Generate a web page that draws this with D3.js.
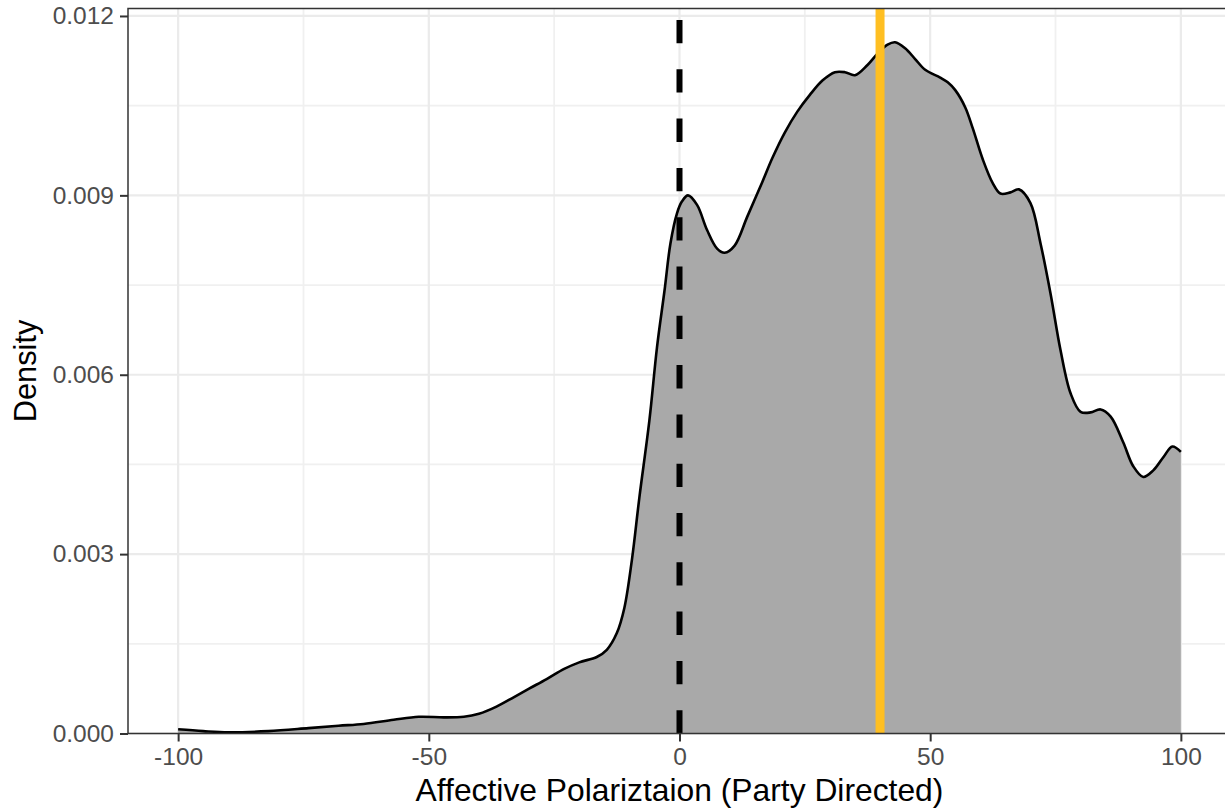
<!DOCTYPE html>
<html lang="en">
<head>
<meta charset="UTF-8">
<title>Density: Affective Polarization</title>
<script src="https://d3js.org/d3.v7.min.js"></script>
<style>
  body { margin: 0; background: #fff; }
  svg { display: block; font-family: "Liberation Sans", Arial, sans-serif; }
</style>
</head>
<body>
<div id="chart"></div>
<script>
// density curve
const xVals = [-100, -95, -90, -82, -74, -68, -63, -57, -52, -47, -43, -40, -36.5, -33, -30, -26.5, -23, -20, -16.5, -14.5,
  -12.5, -11, -9.5, -8, -6, -4.5, -3, -1.8, -0.5, 0.5, 1.7, 3.5, 5.5, 7.5, 9, 11, 13.5, 16.5, 18.5, 21,
  23.5, 26, 28.5, 31, 33, 35, 37.5, 39.5, 41.5, 43, 45, 47, 49, 52, 53.5, 55, 57, 58.5, 60.5, 62.5, 64,
  66, 67.7, 70, 72, 74, 76, 78, 80, 82, 84, 86, 88.5, 90.5, 92.5, 94.5, 96.5, 98.3, 100];
const densVals = [0.00007, 0.00004, 0.00002, 0.00004, 0.00009, 0.00013, 0.00016, 0.00023, 0.00028, 0.00027, 0.00028, 0.00033, 0.00045, 0.00061, 0.00075, 0.00091, 0.00108, 0.00119, 0.00128, 0.00140,
  0.00168, 0.00210, 0.00290, 0.00395, 0.00524, 0.00645, 0.00740, 0.00820, 0.00870, 0.00890, 0.00900, 0.00884, 0.00842, 0.00811, 0.00804, 0.00816, 0.00864, 0.00922, 0.00962, 0.01005,
  0.01040, 0.01068, 0.01092, 0.01106, 0.01106, 0.01101, 0.01118, 0.01137, 0.01152, 0.01156, 0.01146, 0.01128, 0.01110, 0.01097, 0.01089, 0.01076, 0.01047, 0.01012, 0.00960, 0.00920, 0.00903,
  0.00905, 0.00910, 0.00887, 0.00820, 0.00736, 0.00641, 0.00569, 0.00538, 0.00537, 0.00542, 0.00530, 0.00487, 0.00447, 0.00429, 0.00440, 0.00462, 0.00480, 0.00471];

const xTicks = [-100, -50, 0, 50, 100];
const xMinor = [-75, -25, 25, 75];
const yTicks = [0, 0.003, 0.006, 0.009, 0.012];
const yMinor = [0.0015, 0.0045, 0.0075, 0.0105];
const refLine = 0;      // dashed
const meanLine = 40;    // yellow

const W = 1225, H = 809;
const x = d3.scaleLinear().domain([-110, 110]).range([128, 1231]);
const y = d3.scaleLinear().domain([0, 0.012125]).range([733.5, 8.5]);

const svg = d3.select("#chart").append("svg")
  .attr("width", W).attr("height", H);

const data = xVals.map((v, i) => ({ x: v, d: densVals[i] }));

// grid
const grid = svg.append("g");
grid.selectAll(".ymin").data(yMinor).enter().append("line")
  .attr("x1", x(-110)).attr("x2", x(110))
  .attr("y1", d => y(d)).attr("y2", d => y(d))
  .attr("stroke", "#F0F0F0").attr("stroke-width", 1.8);
grid.selectAll(".xmin").data(xMinor).enter().append("line")
  .attr("x1", d => x(d)).attr("x2", d => x(d))
  .attr("y1", y.range()[0]).attr("y2", y.range()[1])
  .attr("stroke", "#F0F0F0").attr("stroke-width", 1.8);
grid.selectAll(".ymaj").data(yTicks).enter().append("line")
  .attr("x1", x(-110)).attr("x2", x(110))
  .attr("y1", d => y(d)).attr("y2", d => y(d))
  .attr("stroke", "#EBEBEB").attr("stroke-width", 2.2);
grid.selectAll(".xmaj").data(xTicks).enter().append("line")
  .attr("x1", d => x(d)).attr("x2", d => x(d))
  .attr("y1", y.range()[0]).attr("y2", y.range()[1])
  .attr("stroke", "#EBEBEB").attr("stroke-width", 2.2);

// density area + outline
const area = d3.area().x(d => x(d.x)).y0(y(0)).y1(d => y(d.d)).curve(d3.curveCatmullRom);
const line = d3.line().x(d => x(d.x)).y(d => y(d.d)).curve(d3.curveCatmullRom);

svg.append("path").datum(data).attr("d", area).attr("fill", "#A9A9A9");
svg.append("path").datum(data).attr("d", line)
  .attr("fill", "none").attr("stroke", "#000").attr("stroke-width", 2.6);

// reference lines
svg.append("line")
  .attr("x1", x(refLine)).attr("x2", x(refLine))
  .attr("y1", y.range()[0]).attr("y2", y.range()[1])
  .attr("stroke", "#000").attr("stroke-width", 6)
  .attr("stroke-dasharray", "23.3,26");
svg.append("line")
  .attr("x1", x(meanLine)).attr("x2", x(meanLine))
  .attr("y1", y.range()[0]).attr("y2", y.range()[1])
  .attr("stroke", "#FFBF22").attr("stroke-width", 9);

// panel border
svg.append("rect")
  .attr("x", x(-110)).attr("y", y.range()[1])
  .attr("width", x(110) - x(-110)).attr("height", y.range()[0] - y.range()[1])
  .attr("fill", "none").attr("stroke", "#333").attr("stroke-width", 1.5);

// axes
const xAxis = svg.append("g")
  .attr("transform", `translate(0,${y(0)})`)
  .call(d3.axisBottom(x).tickValues(xTicks).tickSize(8).tickPadding(6).tickFormat(d => String(d)));
const yAxis = svg.append("g")
  .attr("transform", `translate(${x(-110)},0)`)
  .call(d3.axisLeft(y).tickValues(yTicks).tickSize(8).tickPadding(6).tickFormat(d => d.toFixed(3)));

[xAxis, yAxis].forEach(a => {
  a.select(".domain").remove();
  a.selectAll(".tick line").attr("stroke", "#333").attr("stroke-width", 2);
  a.selectAll(".tick text")
    .attr("fill", "#4D4D4D")
    .style("font-size", "24.5px")
    .style("font-family", "'Liberation Sans', Arial, sans-serif");
});

// axis titles
svg.append("text")
  .attr("x", (x(-110) + x(110)) / 2).attr("y", 801)
  .attr("text-anchor", "middle")
  .style("font-size", "31.8px")
  .text("Affective Polariztaion (Party Directed)");

svg.append("text")
  .attr("transform", `translate(36,${(y.range()[0] + y.range()[1]) / 2}) rotate(-90)`)
  .attr("text-anchor", "middle")
  .style("font-size", "30.8px")
  .text("Density");
</script>
</body>
</html>
